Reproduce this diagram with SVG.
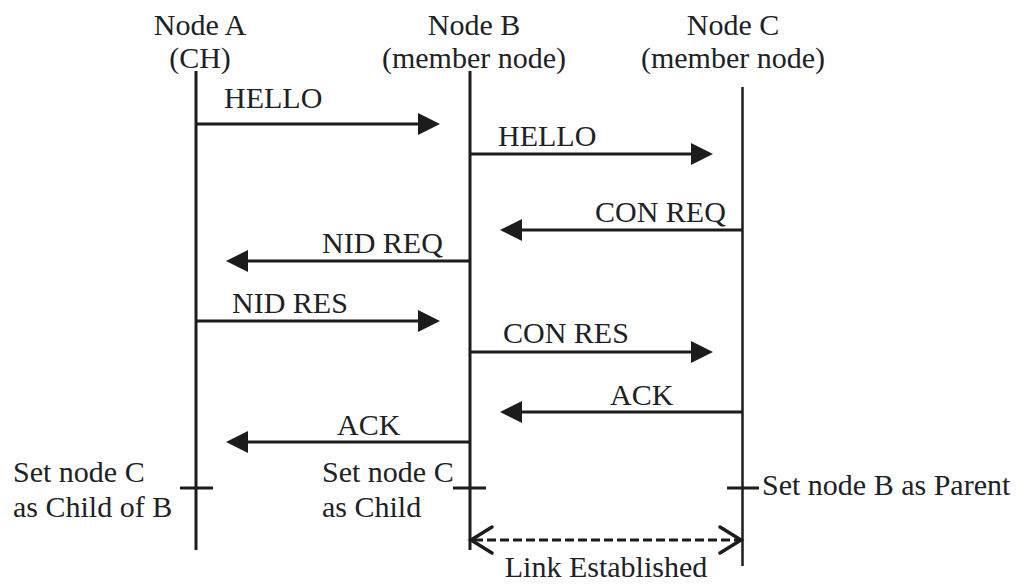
<svg xmlns="http://www.w3.org/2000/svg" width="1024" height="588" viewBox="0 0 1024 588">
  <style>
    text { font-family: "Liberation Serif", "Times New Roman", serif; font-size: 30px; fill: #1c2226; }
    .mid { text-anchor: middle; }
    .life { stroke: #1c1c1c; stroke-width: 3; fill: none; }
    .msg { stroke: #1c1c1c; stroke-width: 3.2; fill: none; marker-end: url(#head); }
    .tick { stroke: #1c1c1c; stroke-width: 3; }
    .dash { stroke: #1c1c1c; stroke-width: 3; stroke-dasharray: 9 4; fill: none; }
    .chev { stroke: #1c1c1c; stroke-width: 3.5; fill: none; stroke-linecap: round; stroke-linejoin: miter; }
  </style>
  <defs>
    <marker id="head" markerUnits="userSpaceOnUse" markerWidth="24" markerHeight="24" refX="1" refY="11" orient="auto">
      <path d="M0,0 L22,11 L0,22 z" fill="#1c1c1c"/>
    </marker>
  </defs>
  <rect width="1024" height="588" fill="#ffffff"/>

  <g id="nodeA">
    <text class="mid" x="200" y="35">Node A</text>
    <text class="mid" x="200" y="68">(CH)</text>
    <line class="life" x1="196" y1="71" x2="196" y2="550"/>
    <line class="tick" x1="180" y1="488" x2="213" y2="488"/>
    <text x="13" y="482">Set node C</text>
    <text x="13" y="517">as Child of B</text>
  </g>

  <g id="nodeB">
    <text class="mid" x="474" y="35">Node B</text>
    <text class="mid" x="474" y="68">(member node)</text>
    <line class="life" x1="470" y1="71" x2="470" y2="550"/>
    <line class="tick" x1="453" y1="488" x2="486" y2="488"/>
    <text x="322" y="482">Set node C</text>
    <text x="322" y="517">as Child</text>
  </g>

  <g id="nodeC">
    <text class="mid" x="733" y="35">Node C</text>
    <text class="mid" x="733" y="68">(member node)</text>
    <line class="life" x1="742.5" y1="87" x2="742.5" y2="566" style="stroke-width:2.5"/>
    <line class="tick" x1="727" y1="488" x2="759" y2="488"/>
    <text x="762" y="495">Set node B as Parent</text>
  </g>

  <g id="connectors">
    <line class="msg" x1="196" y1="124" x2="419" y2="124"/>
    <text x="224" y="108">HELLO</text>

    <line class="msg" x1="470" y1="154" x2="692" y2="154"/>
    <text x="498" y="146">HELLO</text>

    <line class="msg" x1="742" y1="230" x2="521" y2="230"/>
    <text x="595" y="222">CON REQ</text>

    <line class="msg" x1="470" y1="261" x2="247" y2="261"/>
    <text x="322" y="253">NID REQ</text>

    <line class="msg" x1="196" y1="321" x2="419" y2="321"/>
    <text x="232" y="313">NID RES</text>

    <line class="msg" x1="470" y1="352" x2="692" y2="352"/>
    <text x="503" y="343">CON RES</text>

    <line class="msg" x1="742" y1="412" x2="521" y2="412"/>
    <text x="610" y="405">ACK</text>

    <line class="msg" x1="470" y1="442" x2="247" y2="442"/>
    <text x="337" y="435">ACK</text>

    <line class="dash" x1="474" y1="540" x2="738" y2="540"/>
    <path class="chev" d="M492,527 L471,540 L492,553"/>
    <path class="chev" d="M720,527 L741,540 L720,553"/>
    <text class="mid" x="606" y="577">Link Established</text>
  </g>
</svg>
